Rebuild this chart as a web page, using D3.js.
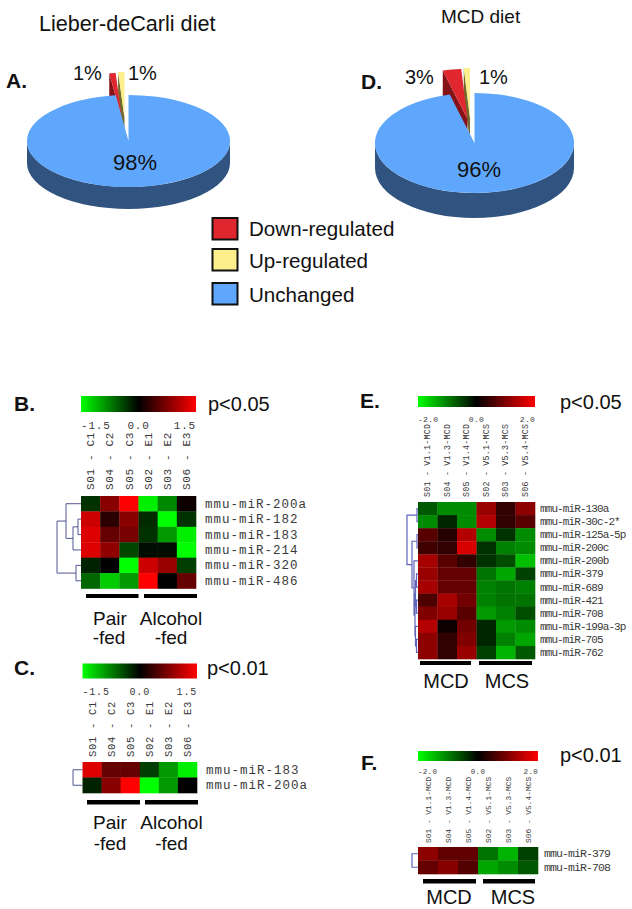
<!DOCTYPE html>
<html><head><meta charset="utf-8">
<script src="https://cdn.jsdelivr.net/npm/d3@7/dist/d3.min.js"></script>
<style>
html,body{margin:0;padding:0;background:#fff}
svg{display:block}
text{font-family:"Liberation Sans",Arial,sans-serif;fill:#111}
.mono{font-family:"Liberation Mono","DejaVu Sans Mono",monospace;fill:#3a3a3a}
</style></head><body>
<svg id="c" width="632" height="909"></svg>
<script>
// ---------- data ----------
const pieCategories = ["Unchanged","Down-regulated","Up-regulated"];
const pieA = [98,1,1];
const pieD = [96,3,1];
const legendLabels = ["Down-regulated","Up-regulated","Unchanged"];

const colsB = ["S01 - C1","S04 - C2","S05 - C3","S02 - E1","S03 - E2","S06 - E3"];
const colsE = ["S01 - V1.1-MCD","S04 - V1.3-MCD","S05 - V1.4-MCD","S02 - V5.1-MCS","S03 - V5.3-MCS","S06 - V5.4-MCS"];
const ticksB = [-1.5,0,1.5];
const ticksE = [-2,0,2];

const rowsB = ["mmu-miR-200a","mmu-miR-182","mmu-miR-183","mmu-miR-214","mmu-miR-320","mmu-miR-486"];
const valsB = [
 [-0.3,0.8,1.5,-1.4,-0.8,0.05],
 [1.2,0.25,0.8,-0.25,-1.5,-0.3],
 [1.3,0.6,0.7,-0.3,-0.9,-1.4],
 [1.3,0.85,-0.4,-0.1,-0.08,-1.5],
 [-0.2,0,-1.5,1.2,0.9,-0.35],
 [-0.6,-1.2,-0.9,1.5,0,0.6]];
const rowsC = ["mmu-miR-183","mmu-miR-200a"];
const valsC = [
 [1.3,0.6,0.6,-0.35,-0.9,-1.4],
 [-0.2,0.8,1.5,-1.5,-0.9,0]];
const rowsE = ["mmu-miR-130a","mmu-miR-30c-2*","mmu-miR-125a-5p","mmu-miR-200c","mmu-miR-200b","mmu-miR-379","mmu-miR-689","mmu-miR-421","mmu-miR-708","mmu-miR-199a-3p","mmu-miR-705","mmu-miR-762"];
const valsE = [
 [-0.7,-1.1,-1.1,1.2,0.4,1.1],
 [-1.1,-0.3,-1.1,1.4,0.4,0.7],
 [0.7,0.3,1.4,-1.1,-0.4,-1.1],
 [0.5,0.4,1.7,-0.4,-1.0,-1.1],
 [1.3,0.7,0.4,-0.4,-0.6,-1.5],
 [1.2,0.8,0.8,-0.9,-1.3,-0.5],
 [1.3,0.8,0.8,-1.0,-0.9,-1.0],
 [0.6,1.3,0.9,-1.0,-0.9,-0.9],
 [1.0,1.2,0.7,-1.2,-1.0,-0.6],
 [1.4,0.1,0.9,-0.3,-1.2,-1.1],
 [1.1,0.4,1.0,-0.3,-1.0,-1.3],
 [1.1,0.4,1.2,-0.5,-1.4,-0.7]];
const rowsF = ["mmu-miR-379","mmu-miR-708"];
const valsF = [
 [1.1,0.75,0.75,-0.9,-1.4,-0.5],
 [0.8,1.05,0.65,-1.3,-1.1,-0.7]];

// dendrograms: [mergeHeight, childA, childB], leaves are row indices
const treeB = [24,[15,0,[8,[3,1,2],3]],[5,4,5]];
const treeC = [9.5,0,1];
const treeE = [11,[1,0,1],[6,[1,2,3],[4,4,[3,[2.5,[1.5,5,6],[1.5,7,8]],[2.5,9,[1.5,10,11]]]]]];
const treeF = [6,0,1];

// ---------- helpers ----------
const svg = d3.select("#c");
const defs = svg.append("defs");
defs.append("filter").attr("id","soft").attr("x","-2%").attr("y","-2%").attr("width","104%").attr("height","104%")
  .append("feGaussianBlur").attr("stdDeviation",0.45);

function txt(x,y,s,size,opt={}){
  const t = svg.append("text").attr("x",x).attr("y",y).text(s)
    .style("font-size",size+"px").attr("dominant-baseline","alphabetic");
  if(opt.anchor) t.attr("text-anchor",opt.anchor);
  if(opt.bold) t.style("font-weight","bold");
  return t;
}

function drawPie(values,cfg){
  const {cx,cy,rx,ry,depth,offsets} = cfg;
  const angles = d3.pie().sort(null).startAngle(0).endAngle(2*Math.PI)(values);
  const px = a=>rx*Math.sin(a);
  const py = a=>-ry*Math.cos(a);
  const arcPath = (a0,a1,move=true)=>{
    const la = (a1-a0)>Math.PI?1:0;
    return `${move?"M":"L"}${px(a0)},${py(a0)}A${rx},${ry} 0 ${la} 1 ${px(a1)},${py(a1)}`;
  };
  const colors = [
    {top:"#5ea7fd",side:"#30547f"},
    {top:"#e0262e",side:"#841318"},
    {top:"#fdf08c",side:"#6f6a2c"}];
  const g = svg.append("g").attr("transform",`translate(${cx},${cy})`);
  [2,1].forEach(i=>{
    const d = angles[i];
    const sg = g.append("g").attr("transform",`translate(${offsets[i-1][0]},${offsets[i-1][1]})`);
    sg.append("path")
      .attr("d",`M0,0L${px(d.startAngle)},${py(d.startAngle)}L${px(d.startAngle)},${py(d.startAngle)+depth}L0,${depth}Z`)
      .attr("fill",colors[i].side);
    sg.append("path")
      .attr("d",arcPath(d.startAngle,d.endAngle)+"L0,0Z")
      .attr("fill",colors[i].top);
  });
  const d = angles[0];
  const a0 = Math.PI/2, a1 = 3*Math.PI/2;
  g.append("path")
    .attr("d",arcPath(a0,a1)+`L${px(a1)},${py(a1)+depth}A${rx},${ry} 0 0 0 ${px(a0)},${py(a0)+depth}Z`)
    .attr("fill",colors[0].side);
  g.append("path")
    .attr("d",`M0,0`+arcPath(d.startAngle,d.endAngle,false)+"Z")
    .attr("fill",colors[0].top);
}

function drawHeat(cfg){
  const {x0,x1,y0,y1,bar,ticks,tickY,tickSize,tickSpacing,cols,colSize,colSpacing,colBottom,rows,vals,tree,labelX,labelSize,labelSpacing,max} = cfg;
  const color = d3.scaleLinear().domain([-max,0,max]).range(["#00ff00","#000000","#ff0000"]).clamp(true);
  const x = d3.scaleBand().domain(d3.range(cols.length)).range([x0,x1]);
  const y = d3.scaleBand().domain(d3.range(rows.length)).range([y0,y1]);
  const id = "grad"+cfg.id;
  const lg = defs.append("linearGradient").attr("id",id);
  [-max,0,max].forEach(v=>lg.append("stop").attr("offset",((v+max)/(2*max)*100)+"%").attr("stop-color",color(v)));
  const bx = d3.scaleLinear().domain([-max,max]).range([x0,x1]);
  svg.append("rect").attr("x",x0).attr("y",bar[0]).attr("width",x1-x0).attr("height",bar[1]-bar[0]).attr("fill",`url(#${id})`);
  ticks.forEach((t,i)=>{
    svg.append("text").attr("class","mono").attr("x",bx(t)).attr("y",tickY)
      .attr("text-anchor",i===0?"start":i===ticks.length-1?"end":"middle")
      .style("font-size",tickSize+"px").style("letter-spacing",tickSpacing+"px")
      .text(t.toFixed(1));
  });
  cols.forEach((c,i)=>{
    const cx = x(i)+x.bandwidth()/2;
    svg.append("text").attr("class","mono")
      .attr("transform",`translate(${cx+colSize*0.33},${colBottom}) rotate(-90)`)
      .style("font-size",colSize+"px").style("letter-spacing",colSpacing+"px")
      .text(c);
  });
  const cells = svg.append("g").attr("filter","url(#soft)");
  vals.forEach((row,r)=>row.forEach((v,c)=>{
    cells.append("rect").attr("x",x(c)).attr("y",y(r))
      .attr("width",x.bandwidth()+0.3).attr("height",y.bandwidth()+0.3)
      .attr("fill",color(v));
  }));
  rows.forEach((s,r)=>{
    svg.append("text").attr("class","mono").attr("x",labelX)
      .attr("y",y(r)+y.bandwidth()/2+labelSize*0.32)
      .style("font-size",labelSize+"px").style("letter-spacing",labelSpacing+"px")
      .text(s);
  });
  const hx = h=>x0-h;
  const paths=[];
  const walk = n=>{
    if(typeof n==="number") return {x:x0,y:y(n)+y.bandwidth()/2};
    const a=walk(n[1]), b=walk(n[2]), nx=hx(n[0]);
    paths.push(`M${a.x},${a.y}H${nx}V${b.y}H${b.x}`);
    return {x:nx,y:(a.y+b.y)/2};
  };
  walk(tree);
  svg.append("path").attr("d",paths.join("")).attr("fill","none")
    .attr("stroke",cfg.treeColor).attr("stroke-width",cfg.treeWidth);
}

function groupBars(segs,y,h){
  segs.forEach(s=>svg.append("rect").attr("x",s[0]).attr("y",y).attr("width",s[1]-s[0]).attr("height",h).attr("fill","#000"));
}

// ---------- titles & pies ----------
txt(39,31,"Lieber-deCarli diet",21.6);
txt(441,23,"MCD diet",19);
txt(6,88,"A.",21,{bold:true});
txt(361,89,"D.",21,{bold:true});

drawPie(pieA,{cx:128.5,cy:141,rx:101.5,ry:46,depth:22,offsets:[[-6.5,-22],[-4,-23]]});
drawPie(pieD,{cx:474.5,cy:143,rx:99.5,ry:50,depth:25,offsets:[[-7,-24],[-4.5,-25]]});

txt(73,80,"1%",20);
txt(128,80,"1%",20);
txt(113,170,"98%",22);
txt(405,84,"3%",20);
txt(479,84,"1%",20);
txt(457,177,"96%",22);

// legend
const legendColors = ["#e0262e","#fdf08c","#5ea7fd"];
const legendSwatchY = [218,249,283];
const legendTextY = [236,268,302];
legendLabels.forEach((s,i)=>{
  svg.append("rect").attr("x",212.5).attr("y",legendSwatchY[i]).attr("width",25).attr("height",21.5)
    .attr("fill",legendColors[i]).attr("stroke","#111").attr("stroke-width",2);
  txt(249,legendTextY[i],s,20.6);
});

// ---------- heat maps ----------
const tree1 = {treeColor:"#3f4387",treeWidth:0.9};
const tree2 = {treeColor:"#6266bb",treeWidth:1.2};
txt(14,411,"B.",21,{bold:true});
txt(208,411,"p<0.05",20);
drawHeat({id:"B",x0:81,x1:196,y0:496,y1:588.5,bar:[396,412],ticks:ticksB,tickY:429,tickSize:11,tickSpacing:0.8,
  cols:colsB,colSize:11,colSpacing:0.65,colBottom:490,rows:rowsB,vals:valsB,tree:treeB,...tree1,
  labelX:205,labelSize:12.5,labelSpacing:1,max:1.5});
groupBars([[86,138.5],[144,197]],594,4);
txt(110,625,"Pair",19,{anchor:"middle"});
txt(109,644,"-fed",19,{anchor:"middle"});
txt(171,625,"Alcohol",19,{anchor:"middle"});
txt(171,644,"-fed",19,{anchor:"middle"});

txt(14,675,"C.",21,{bold:true});
txt(207,675,"p<0.01",20);
drawHeat({id:"C",x0:82.5,x1:197,y0:762,y1:793,bar:[663.5,678.5],ticks:ticksB,tickY:695,tickSize:10,tickSpacing:0.8,
  cols:colsB,colSize:10.5,colSpacing:0.7,colBottom:757,rows:rowsC,vals:valsC,tree:treeC,...tree1,
  labelX:206,labelSize:12.5,labelSpacing:1,max:1.5});
groupBars([[87,140],[145,198]],800,4.5);
txt(110,829,"Pair",19,{anchor:"middle"});
txt(110,850,"-fed",19,{anchor:"middle"});
txt(171.5,829,"Alcohol",19,{anchor:"middle"});
txt(171.5,850,"-fed",19,{anchor:"middle"});

txt(360,408,"E.",21,{bold:true});
txt(560,409,"p<0.05",20);
drawHeat({id:"E",x0:418,x1:535,y0:502,y1:659,bar:[396,407],ticks:ticksE,tickY:422,tickSize:8,tickSpacing:0.3,
  cols:colsE,colSize:8.3,colSpacing:0.25,colBottom:497,rows:rowsE,vals:valsE,tree:treeE,...tree2,
  labelX:540,labelSize:11,labelSpacing:-0.9,max:2});
groupBars([[420,471],[479,532]],661,4);
txt(446,688,"MCD",20,{anchor:"middle"});
txt(507,688,"MCS",20,{anchor:"middle"});

txt(361,770,"F.",21,{bold:true});
txt(560,762,"p<0.01",20);
drawHeat({id:"F",x0:418,x1:538,y0:847,y1:874,bar:[751,761],ticks:ticksE,tickY:774,tickSize:7.5,tickSpacing:0.3,
  cols:colsE,colSize:7.8,colSpacing:0.05,colBottom:843,rows:rowsF,vals:valsF,tree:treeF,...tree2,
  labelX:544,labelSize:11.5,labelSpacing:-0.9,max:2});
groupBars([[423,476],[483,535]],879,4.5);
txt(449,904,"MCD",20,{anchor:"middle"});
txt(513,904,"MCS",20,{anchor:"middle"});
</script>
</body></html>
